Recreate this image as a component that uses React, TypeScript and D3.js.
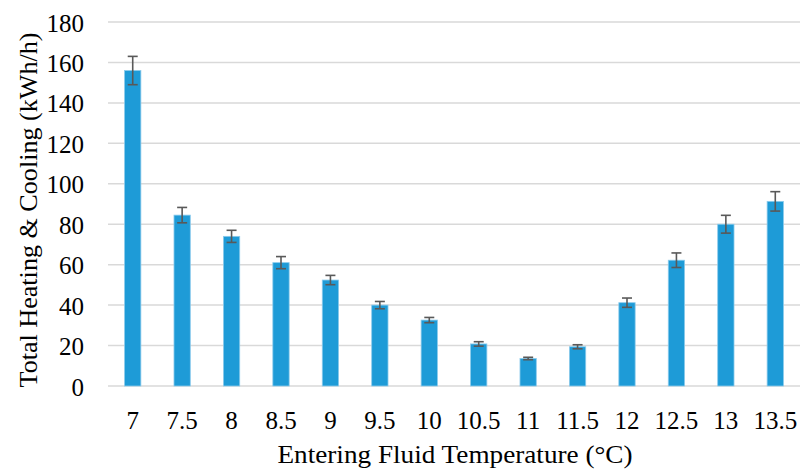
import React, { useEffect, useRef } from 'react';
import * as d3 from 'd3';

// Entering fluid temperature categories
const temps = ['7', '7.5', '8', '8.5', '9', '9.5', '10', '10.5', '11', '11.5', '12', '12.5', '13', '13.5'];
// Total heating & cooling (kWh/h)
const totals = [156, 84.5, 74, 61, 52.4, 40, 32.6, 20.8, 13.6, 19.4, 41.2, 62.2, 80, 91.3];
// Error bar half-widths
const errors = [7, 3.8, 3, 3, 2.3, 1.8, 1.3, 1.1, 0.6, 1, 2.3, 3.6, 4.4, 4.8];
const yTicks = [0, 20, 40, 60, 80, 100, 120, 140, 160, 180];

const FONT = '"Liberation Serif", serif';

const App = () => {
  const ref = useRef<SVGSVGElement>(null);

  useEffect(() => {
    const svg = d3.select(ref.current);
    svg.selectAll('*').remove();

    const left = 108;
    const right = 800;
    const top = 22;
    const bottom = 386;

    const x = d3.scaleBand().domain(temps).range([left, right]).paddingInner(0.67).paddingOuter(0.335);
    const y = d3.scaleLinear().domain([0, 180]).range([bottom, top]);

    // gridlines
    svg
      .append('g')
      .selectAll('line')
      .data(yTicks)
      .enter()
      .append('line')
      .attr('x1', left)
      .attr('x2', right)
      .attr('y1', (d) => y(d))
      .attr('y2', (d) => y(d))
      .attr('stroke', '#d9d9d9')
      .attr('stroke-width', 1.5);

    // y tick labels
    svg
      .append('g')
      .selectAll('text')
      .data(yTicks)
      .enter()
      .append('text')
      .attr('x', 84)
      .attr('y', (d) => y(d))
      .attr('dy', '0.38em')
      .attr('text-anchor', 'end')
      .style('font-family', FONT)
      .style('font-size', '25px')
      .attr('fill', '#000')
      .text((d) => d);

    const data = temps.map((t, i) => ({ t, v: totals[i], e: errors[i] }));

    // bars
    svg
      .append('g')
      .selectAll('rect')
      .data(data)
      .enter()
      .append('rect')
      .attr('x', (d) => x(d.t)!)
      .attr('y', (d) => y(d.v))
      .attr('width', x.bandwidth())
      .attr('height', (d) => bottom - y(d.v))
      .attr('fill', '#1e9bd7')
      .attr('stroke', '#8ccbec')
      .attr('stroke-width', 0.8);

    // error bars
    const eb = svg.append('g').attr('stroke', '#595959').attr('stroke-width', 1.6);
    data.forEach((d) => {
      const cx = x(d.t)! + x.bandwidth() / 2;
      eb.append('line').attr('x1', cx).attr('x2', cx).attr('y1', y(d.v + d.e)).attr('y2', y(d.v - d.e));
      eb.append('line').attr('x1', cx - 5).attr('x2', cx + 5).attr('y1', y(d.v + d.e)).attr('y2', y(d.v + d.e));
      eb.append('line').attr('x1', cx - 5).attr('x2', cx + 5).attr('y1', y(d.v - d.e)).attr('y2', y(d.v - d.e));
    });

    // x tick labels
    svg
      .append('g')
      .selectAll('text')
      .data(temps)
      .enter()
      .append('text')
      .attr('x', (d) => x(d)! + x.bandwidth() / 2)
      .attr('y', 429)
      .attr('text-anchor', 'middle')
      .style('font-family', FONT)
      .style('font-size', '25px')
      .text((d) => d);

    // axis titles
    svg
      .append('text')
      .attr('x', 455)
      .attr('y', 463)
      .attr('text-anchor', 'middle')
      .attr('textLength', 355)
      .attr('lengthAdjust', 'spacingAndGlyphs')
      .style('font-family', FONT)
      .style('font-size', '26px')
      .text('Entering Fluid Temperature (°C)');

    svg
      .append('text')
      .attr('transform', 'translate(37, 210) rotate(-90)')
      .attr('text-anchor', 'middle')
      .attr('textLength', 355)
      .attr('lengthAdjust', 'spacingAndGlyphs')
      .style('font-family', FONT)
      .style('font-size', '26px')
      .text('Total Heating & Cooling (kWh/h)');
  }, []);

  return (
    <svg
      ref={ref}
      width={806}
      height={470}
      style={{ position: 'absolute', left: 0, top: 0, background: '#fff' }}
    />
  );
};

export default App;
